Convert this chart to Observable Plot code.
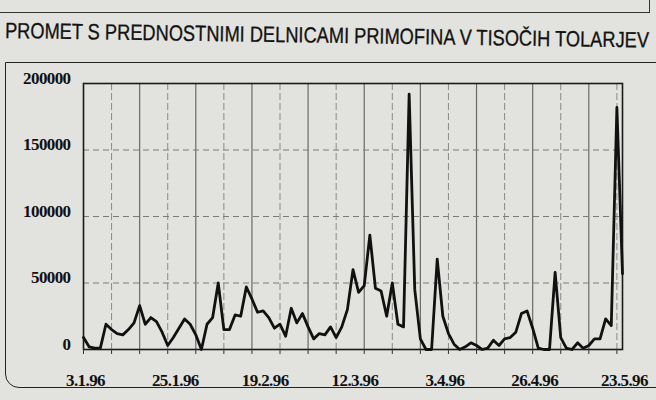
<!DOCTYPE html>
<html>
<head>
<meta charset="utf-8">
<script src="https://cdn.jsdelivr.net/npm/d3@7"></script>
<script src="https://cdn.jsdelivr.net/npm/@observablehq/plot@0.6"></script>
<style>
  html, body { margin: 0; padding: 0; }
  body { width: 656px; height: 400px; overflow: hidden; position: relative; background: #e2e2de; }
  #topbox { position: absolute; left: -4px; top: -20px; width: 652px; height: 31px; border: 1.5px solid #333; }
  #title { position: absolute; left: 5px; top: 20px; white-space: nowrap; line-height: 1;
           font-family: 'Liberation Sans Narrow', 'Liberation Sans', Arial, sans-serif; font-size: 22px;
           color: #111; -webkit-text-stroke: 0.3px #111; transform-origin: 0 50%; }
  #box { position: absolute; left: 5px; top: 62px; width: 700px; height: 324px; border: 1.5px solid #222; border-radius: 0 0 0 14px; }
  #chart { position: absolute; left: 0; top: 60px; }
</style>
</head>
<body>
<div id="topbox"></div>
<div id="title">PROMET S PREDNOSTNIMI DELNICAMI PRIMOFINA V TISOČIH TOLARJEV</div>
<div id="box"></div>
<div id="chart"></div>
<script>
// Tick labels (trading-day index positions) and daily turnover values (thousand SIT)
const tickLabels = ["3.1.96", "25.1.96", "19.2.96", "12.3.96", "3.4.96", "26.4.96", "23.5.96"];
const tickIndex = [0, 16, 32, 48, 64, 80, 96];
const yTicks = [0, 50000, 100000, 150000, 200000];
const values = [
  9000, 2000, 1000, 1000, 19000, 15000, 12000, 11000, 15000, 20000,
  33000, 19000, 24000, 21000, 13000, 3000, 9000, 16000, 23000, 19000,
  11000, 0, 19000, 24000, 50000, 15000, 15000, 26000, 25000, 47000,
  38000, 28000, 29000, 24000, 16000, 19000, 10000, 31000, 20000, 27000,
  17000, 8000, 12000, 11000, 17000, 9000, 17000, 30000, 60000, 43000,
  48000, 86000, 46000, 44000, 25000, 50000, 19000, 17000, 192000, 45000,
  8000, 0, 0, 68000, 25000, 12000, 4000, 0, 2000, 5000,
  3000, 0, 1000, 7000, 3000, 8000, 9000, 13000, 27000, 29000,
  16000, 1000, 0, 0, 58000, 9000, 1000, 0, 5000, 1000,
  3000, 8000, 8000, 23000, 18000, 182000, 57000
];

// condense the title horizontally to the reference width (about 645 px)
const title = document.getElementById("title");
const w0 = title.scrollWidth;
title.style.transform = "rotate(0.85deg) scaleX(" + (644 / w0).toFixed(4) + ")";

const n = values.length;
const gridMajor = d3.range(10, n - 1, 10);
const gridMinor = d3.range(5, n - 1, 10);
const gridAll = d3.range(0, n, 5);

const chart = Plot.plot({
  width: 656,
  height: 330,
  marginLeft: 83,
  marginRight: 34,
  marginTop: 23,
  marginBottom: 41,
  style: {
    background: "transparent",
    fontFamily: "'Liberation Serif', 'Times New Roman', serif",
    fontSize: "17px",
    fontWeight: "bold",
    letterSpacing: "-0.6px",
    color: "#111"
  },
  x: { domain: [0, n - 1] },
  y: { domain: [0, 200000] },
  marks: [
    Plot.ruleX(gridMinor, { stroke: "#8a8a86", strokeWidth: 1, strokeDasharray: "7,3" }),
    Plot.ruleX(gridMajor, { stroke: "#6a6a66", strokeWidth: 1.2 }),
    Plot.ruleY(yTicks.slice(1, -1), { stroke: "#7a7a76", strokeWidth: 1, strokeDasharray: "6,4" }),
    Plot.frame({ stroke: "#1a1a1a", strokeWidth: 1.6 }),
    Plot.axisY(yTicks, { tickSize: 0, tickPadding: 13, dy: -5, tickFormat: d => String(d), label: null }),
    Plot.axisX(gridAll, { tickSize: 5, tickFormat: () => "", label: null, stroke: "#333" }),
    Plot.axisX(tickIndex, { tickSize: 0, tickPadding: 24, dx: 2, tickFormat: d => tickLabels[tickIndex.indexOf(d)], label: null }),
    Plot.line(values, {
      x: (d, i) => i,
      y: d => d,
      stroke: "#111",
      strokeWidth: 2.8,
      strokeLinejoin: "round",
      curve: "linear"
    })
  ]
});
document.getElementById("chart").appendChild(chart);
</script>
</body>
</html>
